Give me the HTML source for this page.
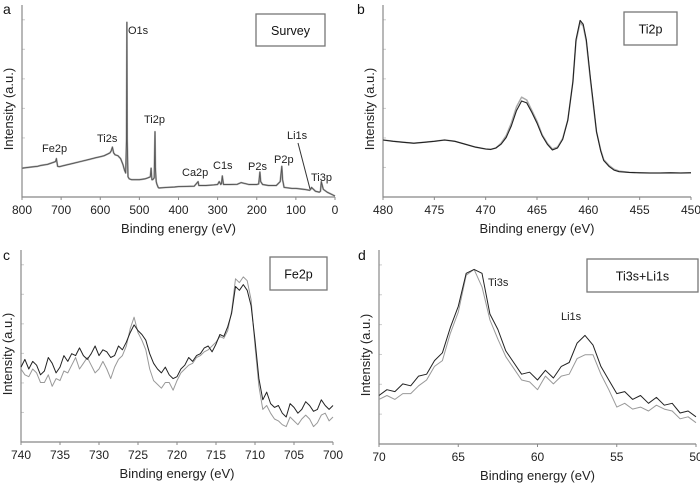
<!DOCTYPE html>
<html><head><meta charset="utf-8">
<style>
html,body{margin:0;padding:0;background:#fff;}
svg{display:block;font-family:"Liberation Sans",Arial,sans-serif;}
</style></head>
<body>
<svg id="fig" width="700" height="484" viewBox="0 0 700 484"></svg>
<script>
// ---- Panel a: survey ----
const surveyEnergy = [800,780,760,750,735,720,714,712,709,705,690,670,650,630,610,600,590,580,575,572,569,566,562,555,548,542,538,535,533,532,531,529,526,520,500,485,478,472,470,468,466,464,462,461,460,459,457,455,452,450,430,410,400,380,360,352,350,348,330,310,300,296,292,290,288,285,270,250,240,220,200,195,192,190,185,170,150,140,136,134,130,110,100,80,65,62,60,50,40,37,35,30,20,10,0];
const surveyIntensity = [15,15.5,16,16.5,17,18,18.5,20,16,15.8,16.5,17.5,18.5,19.5,20.5,21,21.5,22.5,23,24,26,23,22,21.5,20,17,14,12.5,30,91,30,10.5,9.5,9,9,9.5,10,10.5,15,9,9,9.5,10,22,34,15,8,6.5,5,4.7,5,5.2,5.4,5.5,5.6,7.5,8,6,6,6.3,6.5,8,6.5,7,11,6.5,6.5,6.6,7.5,6.5,6.5,6.8,13,8,6.5,6,6,8,16,9,5,4.5,4.5,4,3.5,4,5,3,2.5,3,8,4,2.5,1.5,0.5];
const surveyTicks = [800,700,600,500,400,300,200,100,0];

// ---- Panel b: Ti2p ----
const ti2pEnergy = [480,479,478,477,476,475,474,473,472,471,470,469.5,469,468.5,468,467.5,467,466.5,466,465.5,465,464.5,464,463.5,463,462.5,462,461.5,461.2,460.8,460.5,460.2,459.8,459.5,459.2,458.8,458.5,458,457.5,457,456,455,454,453,452,451,450];
const ti2pDark = [29.7,29,28.5,28,28.5,29,29.7,29,27.5,26,25,24.8,25.5,27.5,31,37,45,50,49,44,38.5,32,27.5,24.5,25.5,30,40,60,82,92,90,82,62,48,34,24,19,16,14,13.2,12.8,12.6,12.5,12.5,12.6,12.5,12.6];
const ti2pLight = [29.7,29,28.5,28,28.5,29,29.7,29,27.5,26,25,24.8,25.5,28,32,38.5,47,52,50.5,45,39.5,32.5,28,25,26,30.5,40,60,81,91,89,81,61,47,34,24.5,19.5,16.5,14.5,13.5,12.8,12.6,12.5,12.5,12.6,12.5,12.6];
const ti2pTicks = [480,475,470,465,460,455,450];

// ---- Panel c: Fe2p ----
const fe2pEnergy = [740,739.5,739,738.5,738,737.5,737,736.5,736,735.5,735,734.5,734,733.5,733,732.5,732,731.5,731,730.5,730,729.5,729,728.5,728,727.5,727,726.5,726,725.5,725,724.5,724,723.5,723,722.5,722,721.5,721,720.5,720,719.5,719,718.5,718,717.5,717,716.5,716,715.5,715,714.5,714,713.5,713,712.5,712,711.5,711,710.5,710,709.5,709,708.5,708,707.5,707,706.5,706,705.5,705,704.5,704,703.5,703,702.5,702,701.5,701,700.5,700];
const fe2pDark = [39,43,38,42,40,35,37,44,41,36,39,45,42,46,45,49,45,43,46,50,45,48,47,44,45,50,48,52,57,61,58,56,53,46,41,38,36,39,35,33,34,38,40,44,42,45,46,49,50,47,51,56,55,60,67,81,79,82,79,71,53,33,22,26,20,18,19,15,13,20,18,15,17,21,19,16,17,22,19,17,19,23,20];
const fe2pLight = [38,35,34,38,36,31,31,35,29,33,32,37,36,40,44,38,41,44,40,36,38,42,38,33,39,43,45,50,59,65,57,53,48,38,32,30,28,31,31,27,32,36,38,40,41,44,45,47,48,50,52,55,54,58,68,85,83,86,84,74,50,29,17,19,15,12,11,9,8,13,11,9,12,14,12,8,10,14,15,11,13,16,10];
const fe2pTicks = [740,735,730,725,720,715,710,705,700];

// ---- Panel d: Ti3s + Li1s ----
const ti3sEnergy = [70,69.5,69,68.5,68,67.5,67,66.5,66,65.5,65,64.5,64,63.5,63,62.5,62,61.5,61,60.5,60,59.5,59,58.5,58,57.5,57,56.5,56,55.5,55,54.5,54,53.5,53,52.5,52,51.5,51,50.5,50];
const ti3sDark = [25,28,27,31,30,35,36,43,47,60,71,88,90,88,67,59,48,42,36,37,33,38,34,40,42,52,56,51,40,33,26,27,23,25,21,24,20,21,16,17,14];
const ti3sLight = [23,25,23,26,26,30,33,40,43,57,68,87,90,81,64,54,45,39,33,32,28,35,31,35,36,44,46,46,36,28,19,21,18,19,17,20,18,17,13,14,11];
const ti3sTicks = [70,65,60,55,50];

const NS = "http://www.w3.org/2000/svg";
const svg = document.getElementById('fig');
function mk(tag, attrs, parent){
  const e = document.createElementNS(NS, tag);
  for (const k in attrs) e.setAttribute(k, attrs[k]);
  (parent||svg).appendChild(e);
  return e;
}
function makeScale(d0,d1,r0,r1){ return v => r0 + (v-d0)/(d1-d0)*(r1-r0); }

function panel(p){
  const g = mk('g', {});
  
  
  const xs = makeScale(p.xmin, p.xmax, p.L, p.R);
  const ys = makeScale(0, 100, p.B, p.T);
  for (let i=1;i<=6;i++){
    const yy = p.B - (p.B-p.T)*i/6.5;
    const t = mk('line',{x1:p.L,x2:p.L+3,y1:yy,y2:yy,stroke:'#ccc','stroke-width':1},g);
    
    
  }
  const ax = mk('path',{d:`M${p.L},${p.T} V${p.B} H${p.R}`,fill:'none',stroke:'#888','stroke-width':1.2},g);
  
  
  p.ticks.forEach(v=>{
    const x = xs(v);
    const tk = mk('line',{x1:x,x2:x,y1:p.B,y2:p.B+3,stroke:'#888'},g);
    
    
    const tl = mk('text',{x:x,y:p.B+17,'text-anchor':'middle','font-size':12,fill:'#222'},g);
    tl.textContent = v;
    
    
  });
  const xt = mk('text',{x:(p.L+p.R)/2,y:p.B+36,'text-anchor':'middle','font-size':13,fill:'#222'},g);
  xt.textContent = 'Binding energy (eV)';
  
  
  const yt = mk('text',{x:0,y:0,'text-anchor':'middle','font-size':13,fill:'#222',transform:`translate(${p.L-9},${(p.T+p.B)/2+8}) rotate(-90)`},g);
  yt.textContent = 'Intensity (a.u.)';
  
  
  const pl = mk('text',{x:p.letterX,y:p.letterY,'font-size':14,fill:'#111'},g);
  pl.textContent = p.letter;
  
  
  const bx = mk('rect',{x:p.box[0],y:p.box[1],width:p.box[2],height:p.box[3],fill:'#fff',stroke:'#777','stroke-width':1.3},g);
  
  
  const bt = mk('text',{x:p.box[0]+p.box[2]/2,y:p.box[1]+p.box[3]/2+5,'text-anchor':'middle','font-size':12.5,fill:'#111'},g);
  bt.textContent = p.title;
  
  
  p.series.forEach(s=>{
    let d='';
    p.x.forEach((e,i)=>{ d += (i?'L':'M') + xs(e).toFixed(1)+','+ys(s.v[i]).toFixed(1); });
    const path = mk('path',{d:d,fill:'none',stroke:s.c,'stroke-width':s.w,'stroke-linejoin':'round'},g);
    
    
  });
  return g;
}

panel({name:'panel-a-survey',xmin:800,xmax:0,L:22,R:335,T:5,B:197,ticks:surveyTicks,
  letter:'a',letterX:3,letterY:14,box:[256,14,69,32],title:'Survey',x:surveyEnergy,
  series:[{v:surveyIntensity,c:'#aaa',w:1.8,n:'survey-line-light'},{v:surveyIntensity,c:'#555',w:0.9,n:'survey-line-dark'}]});
panel({name:'panel-b-ti2p',xmin:480,xmax:450,L:383,R:691,T:5,B:197,ticks:ti2pTicks,
  letter:'b',letterX:357,letterY:14,box:[624,12,53,33],title:'Ti2p',x:ti2pEnergy,
  series:[{v:ti2pLight,c:'#aaa',w:1.5,n:'ti2p-line-light'},{v:ti2pDark,c:'#222',w:1.1,n:'ti2p-line-dark'}]});
panel({name:'panel-c-fe2p',xmin:740,xmax:700,L:21,R:333,T:250,B:442,ticks:fe2pTicks,
  letter:'c',letterX:3,letterY:260,box:[270,257,57,33],title:'Fe2p',x:fe2pEnergy,
  series:[{v:fe2pLight,c:'#999',w:1,n:'fe2p-line-light'},{v:fe2pDark,c:'#222',w:1,n:'fe2p-line-dark'}]});
panel({name:'panel-d-ti3s-li1s',xmin:70,xmax:50,L:379,R:696,T:250,B:444,ticks:ti3sTicks,
  letter:'d',letterX:358,letterY:260,box:[587,259,111,33],title:'Ti3s+Li1s',x:ti3sEnergy,
  series:[{v:ti3sLight,c:'#999',w:1,n:'ti3s-line-light'},{v:ti3sDark,c:'#222',w:1,n:'ti3s-line-dark'}]});

const peakLabels = ['O1s','Ti2p','Ti2s','Fe2p','Ca2p','C1s','P2s','P2p','Li1s','Ti3p','Ti3s','Li1s'];
const peakX = [128,144,97,42,182,213,248,274,287,311,488,561];
const peakY = [34,123,142,152,176,169,170,163,139,181,286,320];
peakLabels.forEach((t,i)=>{
  const e = mk('text',{x:peakX[i],y:peakY[i],'font-size':11,fill:'#222'});
  e.textContent = t;
  
  
});
const lead = mk('line',{x1:298,y1:143,x2:310,y2:189,stroke:'#333','stroke-width':1});


</script>
</body></html>
